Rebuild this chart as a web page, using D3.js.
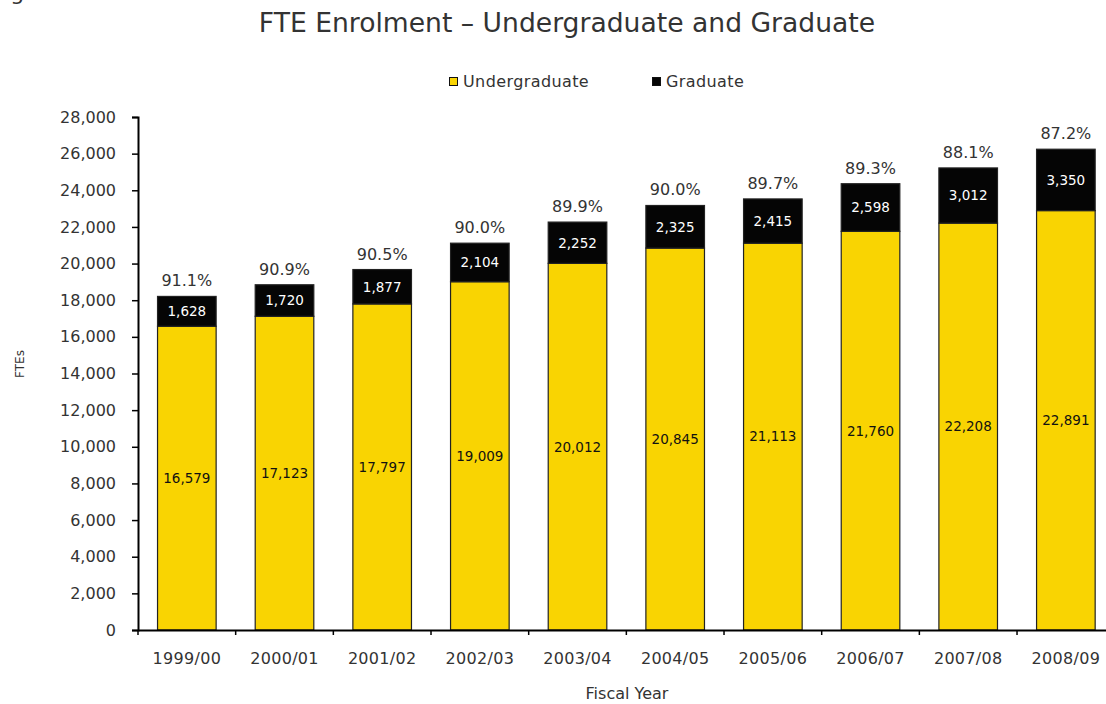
<!DOCTYPE html>
<html>
<head>
<meta charset="utf-8">
<script src="https://cdnjs.cloudflare.com/ajax/libs/d3/7.8.5/d3.min.js"></script>
<style>
  body { margin: 0; background: #fff; }
  svg { display: block; font-family: "DejaVu Sans", Verdana, sans-serif; }
</style>
</head>
<body>
<svg id="chart" width="1106" height="704"></svg>
<script>
// data
var years = ['1999/00', '2000/01', '2001/02', '2002/03', '2003/04', '2004/05', '2005/06', '2006/07', '2007/08', '2008/09'];
var undergrad = [16579, 17123, 17797, 19009, 20012, 20845, 21113, 21760, 22208, 22891];
var graduate = [1628, 1720, 1877, 2104, 2252, 2325, 2415, 2598, 3012, 3350];
var ugShare = ['91.1%', '90.9%', '90.5%', '90.0%', '89.9%', '90.0%', '89.7%', '89.3%', '88.1%', '87.2%'];
var yTicks = [0, 2000, 4000, 6000, 8000, 10000, 12000, 14000, 16000, 18000, 20000, 22000, 24000, 26000, 28000];

var YELLOW = '#F9D402';
var BLACK = '#050505';

var svg = d3.select('#chart');

var x = d3.scaleBand().domain(years).range([138, 1114.7]).paddingInner(0.4).paddingOuter(0.2);
var y = d3.scaleLinear().domain([0, 28000]).range([630, 117]);

// clipped heading from the page above
svg.append('text').attr('x', -7).attr('y', -0.5).attr('font-size', 22).attr('fill', '#333').text('Figure 5');

// title
svg.append('text')
    .attr('x', 567).attr('y', 32)
    .attr('text-anchor', 'middle')
    .attr('font-size', 26.6)
    .attr('fill', '#333')
    .text('FTE Enrolment \u2013 Undergraduate and Graduate');

// legend
var legend = [{name: 'Undergraduate', color: YELLOW, x: 449}, {name: 'Graduate', color: BLACK, x: 652}];
var lg = svg.selectAll('g.legend').data(legend).enter().append('g').attr('class', 'legend');
lg.append('rect').attr('x', function(d){ return d.x + 0.5; }).attr('y', 77.5).attr('width', 8).attr('height', 8)
    .attr('fill', function(d){ return d.color; }).attr('stroke', '#111').attr('stroke-width', 1);
lg.append('text').attr('x', function(d){ return d.x + 14; }).attr('y', 87)
    .attr('font-size', 16).attr('letter-spacing', 0.4).attr('fill', '#333')
    .text(function(d){ return d.name; });

// bars
var rows = years.map(function(yr, i){
    return {year: yr, ug: undergrad[i], gr: graduate[i], pct: ugShare[i]};
});

var bars = svg.selectAll('g.bar').data(rows).enter().append('g').attr('class', 'bar');

bars.append('rect')
    .attr('x', function(d){ return x(d.year); })
    .attr('y', function(d){ return y(d.ug); })
    .attr('width', x.bandwidth())
    .attr('height', function(d){ return y(0) - y(d.ug); })
    .attr('fill', YELLOW).attr('stroke', '#222').attr('stroke-width', 1.2);

bars.append('rect')
    .attr('x', function(d){ return x(d.year); })
    .attr('y', function(d){ return y(d.ug + d.gr); })
    .attr('width', x.bandwidth())
    .attr('height', function(d){ return y(d.ug) - y(d.ug + d.gr); })
    .attr('fill', BLACK).attr('stroke', '#222').attr('stroke-width', 1.2);

var fmt = d3.format(',');

bars.append('text')
    .attr('x', function(d){ return x(d.year) + x.bandwidth() / 2; })
    .attr('y', function(d){ return (y(d.ug) + y(0)) / 2; })
    .attr('dy', '0.36em')
    .attr('text-anchor', 'middle').attr('font-size', 13.5).attr('fill', '#111')
    .text(function(d){ return fmt(d.ug); });

bars.append('text')
    .attr('x', function(d){ return x(d.year) + x.bandwidth() / 2; })
    .attr('y', function(d){ return (y(d.ug) + y(d.ug + d.gr)) / 2; })
    .attr('dy', '0.36em')
    .attr('text-anchor', 'middle').attr('font-size', 13.5).attr('fill', '#fff')
    .text(function(d){ return fmt(d.gr); });

bars.append('text')
    .attr('x', function(d){ return x(d.year) + x.bandwidth() / 2; })
    .attr('y', function(d){ return y(d.ug + d.gr) - 10; })
    .attr('text-anchor', 'middle').attr('font-size', 16).attr('fill', '#333')
    .text(function(d){ return d.pct; });

// y axis
var yAxis = svg.append('g').attr('transform', 'translate(138,0)')
    .call(d3.axisLeft(y).tickValues(yTicks).tickFormat(fmt).tickSize(6).tickPadding(16))
    .attr('font-family', null).attr('font-size', 16);
yAxis.select('.domain').attr('stroke', '#000').attr('stroke-width', 2);
yAxis.selectAll('.tick line').attr('stroke', '#000').attr('stroke-width', 1.5);
yAxis.selectAll('.tick text').attr('fill', '#333');

// x axis
var step = x.step();
var x0 = x.range()[0];
var xAxis = svg.append('g').attr('transform', 'translate(0,630)')
    .call(d3.axisBottom(x).tickSize(0).tickPadding(23))
    .attr('font-family', null).attr('font-size', 16);
xAxis.select('.domain').attr('stroke', '#000').attr('stroke-width', 2);
xAxis.selectAll('.tick text').attr('letter-spacing', 0.3).attr('fill', '#333');
xAxis.selectAll('line.boundary').data(d3.range(years.length + 1)).enter().append('line')
    .attr('class', 'boundary')
    .attr('x1', function(i){ return x0 + i * step; }).attr('x2', function(i){ return x0 + i * step; })
    .attr('y1', 0).attr('y2', 5)
    .attr('stroke', '#000').attr('stroke-width', 1.5);

// axis titles
svg.append('text')
    .attr('x', 627).attr('y', 699)
    .attr('text-anchor', 'middle').attr('font-size', 16).attr('fill', '#333')
    .text('Fiscal Year');

svg.append('text')
    .attr('transform', 'translate(24,364) rotate(-90)')
    .attr('text-anchor', 'middle').attr('font-size', 12).attr('fill', '#333')
    .text('FTEs');
</script>
</body>
</html>
